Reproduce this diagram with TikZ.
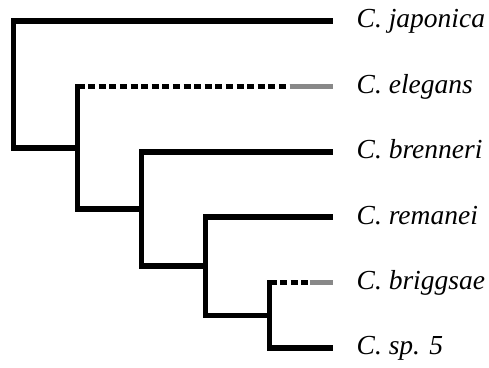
\documentclass[tikz,border=0pt]{standalone}
\usepackage{fontspec}
\setmainfont{Liberation Serif}
\definecolor{tipgrey}{RGB}{136,136,136}
\begin{document}
\begin{tikzpicture}[x=1pt,y=-1pt,
  branch/.style={line width=5.6pt, line cap=rect, line join=miter},
  unsure/.style={line width=5.6pt, dash pattern=on 7pt off 3.6pt, line cap=butt},
  tip/.style={line width=5.6pt, draw=tipgrey, line cap=butt},
  taxon/.style={anchor=base west, inner sep=0pt, font=\fontsize{27.5}{32}\selectfont\itshape}]
\useasboundingbox (0,0) rectangle (489,367);

% internal nodes of the tree
\coordinate (rt)  at (13.5,147.7);
\coordinate (n1)  at (77.5,147.7);
\coordinate (n2)  at (141.5,209);
\coordinate (n2b) at (141.5,266.25);
\coordinate (n3)  at (205.5,266.25);
\coordinate (n3b) at (205.5,315.3);
\coordinate (n4)  at (269.5,315.3);

% leaf ends
\coordinate (japE) at (330.2,21);
\coordinate (eleS) at (77.5,86.4);
\coordinate (eleM) at (290,86.4);
\coordinate (eleE) at (333,86.4);
\coordinate (breE) at (330.2,151.8);
\coordinate (remE) at (330.2,217.2);
\coordinate (briS) at (269.5,282.6);
\coordinate (briM) at (310,282.6);
\coordinate (briE) at (333,282.6);
\coordinate (sp5E) at (330.2,348);

% branches
\draw[branch] (japE) -| (rt) -- (n1);
\draw[branch] (eleS) |- (n2);
\draw[unsure] (eleS) -- (eleM);
\draw[tip] (eleM) -- (eleE);
\draw[branch] (breE) -| (n2b) -- (n3);
\draw[branch] (remE) -| (n3b) -- (n4);
\draw[branch] (briS) |- (sp5E);
\draw[unsure] (briS) -- (briM);
\draw[tip] (briM) -- (briE);

% taxon labels
\node[taxon] (jap) at (356.5,27.8)  {C. japonica};
\node[taxon] (ele) at (356.5,93.2)  {C. elegans};
\node[taxon] (bre) at (356.5,158.6) {C. brenneri};
\node[taxon] (rem) at (356.5,224.0) {C. remanei};
\node[taxon] (bri) at (356.5,289.4) {C. briggsae};
\node[taxon] (sp5) at (356.5,354.8) {C. sp. 5};
\end{tikzpicture}
\end{document}
